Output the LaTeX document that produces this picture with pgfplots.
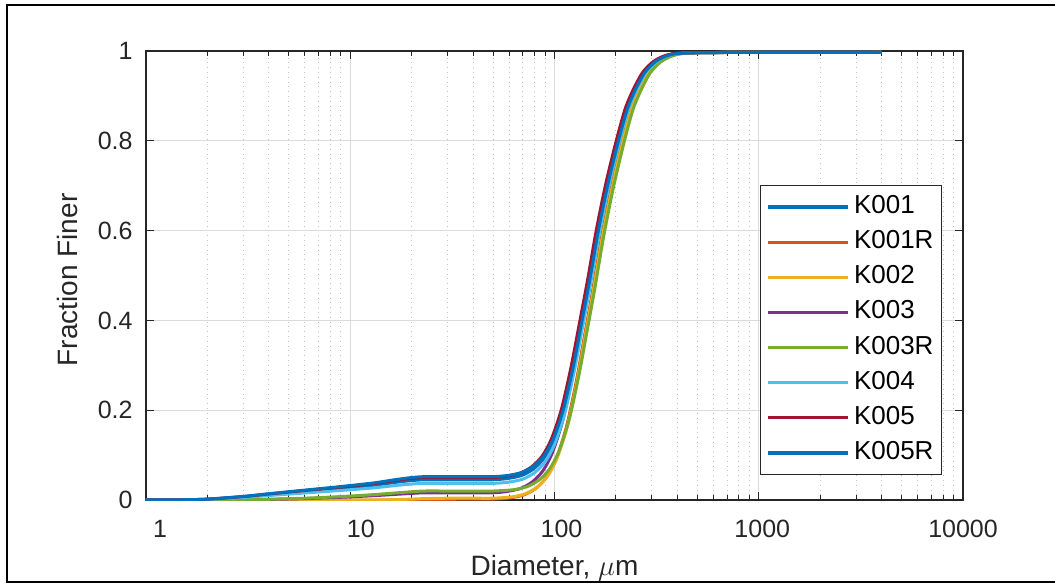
\documentclass[border=0pt]{standalone}
\usepackage{pgfplots}
\pgfplotsset{compat=1.18}
\usepackage{fontspec}
\setmainfont{Liberation Sans}
\definecolor{cA}{RGB}{0,114,189}
\definecolor{cB}{RGB}{217,83,25}
\definecolor{cC}{RGB}{237,177,32}
\definecolor{cD}{RGB}{126,47,142}
\definecolor{cE}{RGB}{119,172,48}
\definecolor{cF}{RGB}{77,190,238}
\definecolor{cG}{RGB}{162,20,47}
\definecolor{axgray}{RGB}{38,38,38}
\begin{document}
\begin{tikzpicture}[x=1pt,y=1pt]
\useasboundingbox (0,0) rectangle (527.5,292);
\draw[line width=1pt, black] (527.5,289.5) -- (3.5,289.5) -- (3.5,1.2) -- (527.5,1.2);
\begin{axis}[
  at={(73pt,42pt)}, anchor=south west,
  width=408.5pt, height=224.5pt, scale only axis,
  xmode=log, xmin=1, xmax=10000, ymin=0, ymax=1,
  xtick={1,10,100,1000,10000}, xticklabels={1,10,100,1000,10000},
  minor xtick={2,3,4,5,6,7,8,9,20,30,40,50,60,70,80,90,200,300,400,500,600,700,800,900,2000,3000,4000,5000,6000,7000,8000,9000},
  ytick={0,0.2,0.4,0.6,0.8,1}, yticklabels={0,0.2,0.4,0.6,0.8,1},
  xmajorgrids, xminorgrids, ymajorgrids,
  major grid style={gray!28, line width=0.5pt},
  minor grid style={gray!50, dotted, line width=0.5pt},
  tick align=inside, tick pos=both,
  major tick length=4pt, minor tick length=2.5pt,
  axis line style={axgray, line width=0.6pt},
  tick style={axgray, line width=0.5pt},
  tick label style={font=\fontsize{12.5}{14}\selectfont, text=axgray},
  xticklabel style={inner sep=0pt, anchor=north, yshift=-10pt, xshift={(4-\ticknum)*1.75pt}},
  yticklabel style={inner sep=0pt, anchor=east, xshift=-6.5pt},
  xlabel={Diameter, $\mu$m}, ylabel={Fraction Finer},
  label style={font=\fontsize{14}{16}\selectfont, text=axgray},
  xlabel style={at={(axis description cs:0.5,0)}, anchor=base, yshift=-37.5pt},
  ylabel style={at={(axis description cs:0,0.5)}, anchor=base, yshift=34pt, xshift=-2.2pt},
  legend style={at={(rel axis cs:0.9743,0.0557)}, anchor=south east, draw=axgray, line width=0.5pt, fill=white,
    font=\fontsize{13}{15}\selectfont, text=black, inner xsep=3pt, inner ysep=3.5pt, row sep=3.07pt, column sep=1pt,
    nodes={inner sep=1pt, text height=9.5pt, text depth=3pt}},
  legend cell align=left,
  legend image code/.code={\draw[#1, line width=1.6pt] (0pt,0pt) -- (40pt,0pt);},
  every axis plot/.append style={line width=1.5pt, line join=round, smooth, tension=0.45},
]
\addplot[cA] coordinates {(1,0)(1.5,0.0004)(2,0.0017)(3,0.0069)(4,0.0121)(6,0.019)(9,0.026)(13,0.0329)(17,0.0398)(20,0.0433)(23,0.045)(30,0.045)(40,0.045)(50,0.045)
(59.1,0.0479)(69.0,0.0546)(78.8,0.0689)(88.7,0.0928)(98.5,0.131)(110.3,0.1978)(123.1,0.2933)(134.9,0.3888)(147.8,0.4843)(163.5,0.5989)(182.2,0.704)(204.9,0.7995)(226.6,0.8711)(248.2,0.9141)(275.8,0.9523)(310.3,0.9761)(349.7,0.9885)(394,0.9943)(500,0.9962)(1000,0.9971)(4000,0.9972)};
\addlegendentry{K001}
\addplot[cB] coordinates {(1,0)(1.5,0)(2,0)(3,0)(4,0)(6,0)(9,0)(13,0)(17,0)(20,0.0005)(23,0.001)(30,0.0015)(40,0.002)(50,0.002)
(61.2,0.005)(71.4,0.012)(81.6,0.027)(91.8,0.0519)(102,0.0918)(114.2,0.1617)(127.5,0.2615)(139.7,0.3613)(153,0.4611)(169.3,0.5808)(188.7,0.6906)(212.2,0.7904)(234.6,0.8653)(257,0.9102)(285.6,0.9501)(321.3,0.975)(362.1,0.988)(408,0.994)(500,0.996)(1000,0.997)(4000,0.997)};
\addlegendentry{K001R}
\addplot[cC] coordinates {(1,0)(1.5,0)(2,0)(3,0)(4,0)(6,0)(9,0)(13,0)(17,0.001)(20,0.002)(23,0.003)(30,0.004)(40,0.004)(50,0.004)
(61.8,0.007)(72.1,0.014)(82.4,0.0289)(92.7,0.0538)(103,0.0936)(115.4,0.1634)(128.8,0.263)(141.1,0.3626)(154.5,0.4622)(171,0.5817)(190.6,0.6912)(214.2,0.7908)(236.9,0.8655)(259.6,0.9104)(288.4,0.9502)(324.5,0.9751)(365.7,0.9881)(412,0.994)(500,0.996)(1000,0.997)(4000,0.997)};
\addlegendentry{K002}
\addplot[cD] coordinates {(1,0)(1.5,0)(2,0.0001)(3,0.0005)(4,0.0013)(6,0.0032)(9,0.0061)(13,0.0096)(17,0.0128)(20,0.0147)(23,0.016)(30,0.016)(40,0.016)(50,0.016)
(58.5,0.019)(68.3,0.0258)(78,0.0406)(87.8,0.0652)(97.5,0.1046)(109.2,0.1734)(121.9,0.2718)(133.6,0.3702)(146.3,0.4686)(161.9,0.5867)(180.4,0.695)(202.8,0.7934)(224.3,0.8672)(245.7,0.9114)(273,0.9508)(307.1,0.9754)(346.1,0.9882)(390,0.9941)(500,0.9961)(1000,0.997)(4000,0.997)};
\addlegendentry{K003}
\addplot[cE] coordinates {(1,0)(1.5,0)(2,0.0001)(3,0.0006)(4,0.0016)(6,0.004)(9,0.0076)(13,0.012)(17,0.016)(20,0.0184)(23,0.02)(30,0.02)(40,0.02)(50,0.02)
(63,0.0229)(73.5,0.0298)(84,0.0445)(94.5,0.069)(105,0.1082)(117.6,0.1768)(131.3,0.2748)(143.9,0.3728)(157.5,0.4708)(174.3,0.5884)(194.3,0.6962)(218.4,0.7942)(241.5,0.8677)(264.6,0.9118)(294,0.951)(330.8,0.9755)(372.8,0.9882)(420,0.9941)(500,0.9961)(1000,0.9971)(4000,0.9971)};
\addlegendentry{K003R}
\addplot[cF] coordinates {(1,0)(1.5,0.0004)(2,0.0014)(3,0.0057)(4,0.01)(6,0.0157)(9,0.0213)(13,0.027)(17,0.0327)(20,0.0356)(23,0.037)(30,0.037)(40,0.037)(50,0.037)
(60,0.0399)(70,0.0466)(80,0.0611)(90,0.0852)(100,0.1237)(112,0.1911)(125,0.2874)(137,0.3837)(150,0.48)(166,0.5955)(185,0.7015)(208,0.7978)(230,0.87)(252,0.9133)(280,0.9519)(315,0.9759)(355,0.9884)(400,0.9942)(500,0.9961)(1000,0.9971)(4000,0.9971)};
\addlegendentry{K004}
\addplot[cG] coordinates {(1,0)(1.5,0.0005)(2,0.0019)(3,0.0077)(4,0.0135)(6,0.0212)(9,0.0288)(13,0.0365)(17,0.0442)(20,0.0481)(23,0.05)(30,0.05)(40,0.05)(50,0.05)
(57.9,0.0529)(67.6,0.0595)(77.2,0.0738)(86.9,0.0975)(96.5,0.1355)(108.1,0.202)(120.6,0.297)(132.2,0.392)(144.8,0.487)(160.2,0.601)(178.5,0.7055)(200.7,0.8005)(222,0.8718)(243.2,0.9145)(270.2,0.9525)(304,0.9763)(342.6,0.9886)(386,0.9943)(500,0.9962)(1000,0.9972)(4000,0.9972)};
\addlegendentry{K005}
\addplot[cA] coordinates {(1,0)(1.5,0.0005)(2,0.002)(3,0.008)(4,0.014)(6,0.022)(9,0.030)(13,0.038)(17,0.046)(20,0.050)(23,0.052)(30,0.052)(40,0.052)(50,0.052)
(59.4,0.0548)(69.3,0.0615)(79.2,0.0757)(89.1,0.0994)(99,0.1373)(110.9,0.2037)(123.8,0.2985)(135.6,0.3933)(148.5,0.4881)(164.3,0.6018)(183.2,0.7061)(205.9,0.8009)(227.7,0.872)(249.5,0.9147)(277.2,0.9526)(311.9,0.9763)(351.5,0.9886)(396,0.9943)(500,0.9962)(1000,0.9972)(4000,0.9972)};
\addlegendentry{K005R}
\end{axis}
\end{tikzpicture}
\end{document}
